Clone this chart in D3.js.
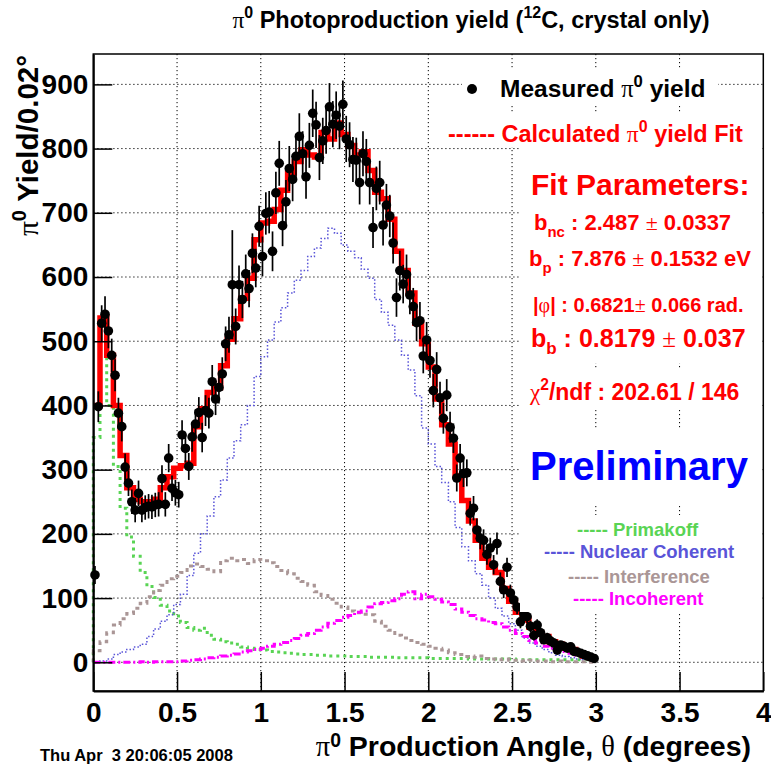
<!DOCTYPE html>
<html>
<head>
<meta charset="utf-8">
<script src="https://cdn.jsdelivr.net/npm/d3@7"></script>
<style>
  body { margin: 0; background: #fff; }
  text { font-family: "Liberation Sans", Arial, Helvetica, sans-serif; font-weight: bold; white-space: pre; }
</style>
</head>
<body>
<div id="chart"></div>
<script>
// histogram binning (degrees)
var dataBin = 0.02, curveBin = 0.04;

// measured pi0 yield per 0.02 deg bin, 0 .. 3 deg
var yieldVals = [
  136, 398, 528, 542, 516, 478, 447, 388, 367, 304,
  279, 250, 237, 263, 237, 241, 243, 242, 245, 246,
  286, 246, 318, 271, 264, 261, 354, 333, 305, 351,
  371, 389, 350, 392, 388, 437, 410, 428, 449, 496,
  510, 588, 523, 588, 565, 605, 582, 637, 614, 679,
  632, 699, 701, 640, 731, 777, 680, 717, 769, 752,
  788, 819, 792, 756, 805, 855, 837, 786, 812, 828,
  865, 838, 852, 835, 869, 815, 806, 783, 782, 747,
  792, 780, 747, 677, 738, 747, 681, 712, 695, 653,
  568, 610, 589, 604, 572, 554, 529, 532, 477, 502,
  470, 423, 456, 412, 380, 416, 366, 349, 287, 318,
  294, 295, 232, 240, 206, 193, 190, 168, 178, 152,
  185, 126, 113, 148, 108, 97, 86, 63, 76, 71,
  56, 42, 58, 46, 35, 38, 33, 30, 19, 27,
  25, 22, 24, 17, 16, 14, 12, 10, 8, 6
];
var yieldErrs = [
  14, 24, 28, 28, 27, 26, 25, 24, 23, 21,
  20, 19, 19, 20, 19, 19, 19, 19, 19, 19,
  21, 19, 22, 20, 20, 20, 23, 22, 21, 23,
  23, 24, 23, 24, 24, 26, 25, 25, 26, 27,
  28, 85, 28, 30, 29, 30, 29, 31, 30, 32,
  31, 33, 33, 31, 33, 35, 32, 34, 35, 34,
  35, 36, 35, 34, 35, 37, 36, 35, 36, 36,
  37, 36, 37, 36, 37, 36, 35, 35, 35, 34,
  35, 35, 34, 32, 34, 34, 32, 33, 33, 32,
  30, 31, 30, 31, 30, 29, 29, 29, 27, 28,
  27, 26, 27, 25, 24, 25, 24, 23, 21, 22,
  21, 21, 19, 19, 18, 17, 17, 16, 16, 15,
  17, 14, 13, 15, 13, 12, 11, 10, 11, 10,
  9, 8, 9, 8, 7, 8, 7, 7, 5, 6,
  6, 6, 6, 5, 5, 5, 4, 4, 3, 3
];

// fit and its components, per 0.04 deg bin
var fitVals = [
  400, 536, 478, 400, 322, 272, 254, 250, 250, 254,
  272, 289, 302, 306, 310, 367, 395, 420, 428, 462,
  503, 535, 567, 598, 658, 684, 687, 705, 735, 762,
  780, 798, 790, 787, 825, 815, 840, 822, 805, 790,
  795, 766, 732, 722, 690, 640, 610, 575, 528, 496,
  460, 410, 370, 340, 290, 252, 220, 190, 162, 148,
  140, 115, 95, 78, 66, 55, 45, 40, 32, 28,
  22, 20, 14, 10, 7
];
var primakoff = [
  350, 505, 400, 305, 240, 195, 165, 140, 118, 101,
  89, 80, 72, 62, 54, 50, 53, 42, 36, 32,
  30, 28, 24, 22, 20, 19, 17, 16, 15, 14,
  13, 12, 12, 11, 11, 10, 10, 10, 9, 9,
  9, 8, 8, 8, 8, 7, 7, 7, 7, 7,
  6, 6, 6, 6, 6, 6, 5, 5, 5, 5,
  5, 5, 5, 4, 4, 4, 4, 4, 4, 4,
  4, 4, 4, 4, 4
];
var nuclearCoherent = [
  1, 2, 5, 12, 16, 20, 24, 28, 40, 52,
  64, 74, 90, 106, 135, 170, 200, 228, 258, 284,
  318, 345, 370, 400, 445, 476, 502, 530, 552, 575,
  595, 610, 632, 645, 660, 676, 668, 650, 640, 630,
  612, 598, 565, 545, 525, 502, 478, 455, 415, 365,
  340, 305, 280, 250, 210, 180, 158, 138, 120, 100,
  84, 72, 60, 50, 38, 30, 25, 20, 15, 11,
  9, 7, 5, 4, 3
];
var interference = [
  18, 32, 46, 58, 68, 76, 84, 92, 102, 112,
  120, 130, 134, 140, 150, 153, 149, 145, 141, 158,
  162, 158, 160, 154, 160, 158, 155, 149, 143, 138,
  131, 126, 120, 110, 104, 98, 92, 86, 80, 77,
  75, 74, 64, 56, 50, 42, 38, 34, 31, 28,
  25, 22, 19, 15, 12, 9, 8, 10, 6, 5,
  4, 5, 3, 3, 2, 3, 2, 2, 1, 2,
  1, 1, 1, 1, 0
];
var incoherent = [
  0, 0, 0, 0, 0, 0, 0, 1, 0, 1,
  1, 1, 1, 2, 3, 4, 5, 7, 8, 10,
  11, 13, 16, 18, 20, 22, 25, 28, 31, 34,
  37, 42, 45, 50, 55, 61, 65, 70, 73, 78,
  80, 86, 91, 93, 96, 99, 106, 110, 99, 106,
  102, 98, 94, 90, 83, 78, 73, 68, 66, 62,
  60, 55, 50, 45, 40, 34, 30, 25, 22, 19,
  17, 14, 11, 10, 8
];

var xTicks = [0, 0.5, 1, 1.5, 2, 2.5, 3, 3.5, 4];
var xTickLabels = ["0", "0.5", "1", "1.5", "2", "2.5", "3", "3.5", "4"];
var yTicks = [0, 100, 200, 300, 400, 500, 600, 700, 800, 900];

var W = 771, H = 766;
var frame = {left: 93.3, right: 763.3, top: 54, bottom: 691};
var SERIF = "'Liberation Serif', 'DejaVu Serif', serif";

var svg = d3.select("#chart").append("svg")
  .attr("width", W).attr("height", H);
svg.append("rect").attr("width", W).attr("height", H).attr("fill", "#fff");

var x = d3.scaleLinear().domain([0, 4]).range([frame.left, frame.right]);
var y = d3.scaleLinear().domain([-44.7, 947.3]).range([frame.bottom, frame.top]);

// grid
var grid = svg.append("g").attr("stroke", "#000").attr("stroke-width", 1)
  .attr("stroke-dasharray", "1.2,2.8");
grid.selectAll(".gx").data(xTicks.slice(1, -1)).enter().append("line")
  .attr("x1", function(d) { return x(d); }).attr("x2", function(d) { return x(d); })
  .attr("y1", frame.top).attr("y2", frame.bottom);
grid.selectAll(".gy").data(yTicks).enter().append("line")
  .attr("y1", function(d) { return y(d); }).attr("y2", function(d) { return y(d); })
  .attr("x1", frame.left).attr("x2", frame.right);

// step histogram path
function histPoints(vals, bw, fromZero) {
  var pts = vals.map(function(v, i) { return [i * bw, v]; });
  pts.push([vals.length * bw, vals[vals.length - 1]]);
  if (fromZero) pts.unshift([0, 0]);
  return pts;
}
var step = d3.line()
  .x(function(d) { return x(d[0]); })
  .y(function(d) { return y(d[1]); })
  .curve(d3.curveStepAfter);

var curves = [
  {vals: primakoff, color: "#59d454", w: 3, dash: "3,4"},
  {vals: nuclearCoherent, color: "#5954d8", w: 1.5, dash: "1.5,2"},
  {vals: interference, color: "#aa9696", w: 3, dash: "4,4"},
  {vals: incoherent, color: "#ff00ff", w: 3, dash: "7,3,2,3"}
];
curves.forEach(function(c) {
  svg.append("path")
    .attr("d", step(histPoints(c.vals, curveBin, true)))
    .attr("fill", "none").attr("stroke", c.color)
    .attr("stroke-width", c.w).attr("stroke-dasharray", c.dash);
});

svg.append("path")
  .attr("d", step(histPoints(fitVals, curveBin, false)))
  .attr("fill", "none").attr("stroke", "#ff0000")
  .attr("stroke-width", 5.5).attr("stroke-linejoin", "miter");

// measured points
var pts = svg.append("g");
pts.selectAll("line").data(yieldVals).enter().append("line")
  .attr("x1", function(d, i) { return x((i + 0.5) * dataBin); })
  .attr("x2", function(d, i) { return x((i + 0.5) * dataBin); })
  .attr("y1", function(d, i) { return y(d - yieldErrs[i]); })
  .attr("y2", function(d, i) { return y(d + yieldErrs[i]); })
  .attr("stroke", "#000").attr("stroke-width", 1.7);
pts.selectAll("circle").data(yieldVals).enter().append("circle")
  .attr("cx", function(d, i) { return x((i + 0.5) * dataBin); })
  .attr("cy", function(d) { return y(d); })
  .attr("r", 4.8).attr("fill", "#000");

// axes
var xAxis = svg.append("g").attr("transform", "translate(0," + frame.bottom + ")");
xAxis.call(d3.axisBottom(x).tickValues(d3.range(0, 4.001, 0.1)).tickSize(-9.5)
  .tickSizeOuter(0).tickFormat(""));
xAxis.call(d3.axisBottom(x).tickValues(xTicks).tickSize(-19).tickSizeOuter(0)
  .tickPadding(11).tickFormat(function(d, i) { return xTickLabels[i]; }));
var yAxis = svg.append("g").attr("transform", "translate(" + frame.left + ",0)");
yAxis.call(d3.axisLeft(y).tickValues(d3.range(-40, 941, 20)).tickSize(-9.5)
  .tickSizeOuter(0).tickFormat(""));
yAxis.call(d3.axisLeft(y).tickValues(yTicks).tickSize(-19).tickSizeOuter(0)
  .tickPadding(5));
svg.selectAll(".tick line").attr("stroke", "#000").attr("stroke-width", 1.5);
svg.selectAll(".domain").attr("stroke", "#000").attr("stroke-width", 2);
svg.selectAll(".tick text").attr("font-size", 28).attr("fill", "#000")
  .attr("font-family", "'Liberation Sans', Arial, sans-serif").attr("font-weight", "bold");

// text helper: runs of {t, g (greek/symbol), sup, sub}
function rich(parent, px, py, size, fill, runs, anchor, supRaise) {
  var t = parent.append("text").attr("x", px).attr("y", py)
    .attr("font-size", size).attr("fill", fill)
    .attr("text-anchor", anchor || "start");
  var shift = 0, up = supRaise || 0.42;
  runs.forEach(function(r) {
    var s = r.sup ? -up * size : r.sub ? 0.3 * size : 0;
    var ts = t.append("tspan").text(r.t).attr("dy", s - shift);
    shift = s;
    if (r.sup || r.sub) ts.attr("font-size", size * 0.68);
    if (r.g) ts.attr("font-family", SERIF).attr("font-weight", "normal");
  });
  return t;
}

// white boxes under legend texts
var boxes = [
  [462, 68, 718, 106], [444, 112, 762, 147], [520, 147, 762, 363],
  [520, 370, 762, 410], [520, 428, 762, 505], [520, 515, 762, 612]
];
svg.selectAll(".box").data(boxes).enter().append("rect")
  .attr("x", function(d) { return d[0]; }).attr("y", function(d) { return d[1]; })
  .attr("width", function(d) { return d[2] - d[0]; })
  .attr("height", function(d) { return d[3] - d[1]; })
  .attr("fill", "#fff");

// frame
svg.append("rect").attr("x", frame.left).attr("y", frame.top)
  .attr("width", frame.right - frame.left).attr("height", frame.bottom - frame.top)
  .attr("fill", "none").attr("stroke", "#000").attr("stroke-width", 1.5);

// titles
rich(svg, 471, 28, 23.5, "#000", [{t: "π", g: 1}, {t: "0", sup: 1},
  {t: " Photoproduction yield ("}, {t: "12", sup: 1}, {t: "C, crystal only)"}], "middle");
rich(svg, 751, 756, 28.5, "#000", [{t: "π", g: 1}, {t: "0", sup: 1},
  {t: " Production Angle, "}, {t: "θ", g: 1}, {t: " (degrees)"}], "end", 0.3);
rich(svg.append("g").attr("transform", "translate(38,55) rotate(-90)"), 0, 0, 29.5, "#000",
  [{t: "π", g: 1}, {t: "0", sup: 1}, {t: " Yield/0.02°"}], "end");
svg.append("text").attr("x", 40).attr("y", 761).attr("font-size", 16.5)
  .text("Thu Apr  3 20:06:05 2008");

// legend
svg.append("circle").attr("cx", 472).attr("cy", 89).attr("r", 5).attr("fill", "#000");
rich(svg, 500, 97, 24.5, "#000", [{t: "Measured "}, {t: "π", g: 1}, {t: "0", sup: 1}, {t: " yield"}]);
rich(svg, 448, 141.5, 23.5, "#ff0000", [{t: "------ Calculated "}, {t: "π", g: 1},
  {t: "0", sup: 1}, {t: " yield Fit"}]);
rich(svg, 531, 195, 30, "#ff0000", [{t: "Fit Parameters:"}]);
rich(svg, 534, 230, 22, "#ff0000", [{t: "b"}, {t: "nc", sub: 1}, {t: " : 2.487 "},
  {t: "±", g: 1}, {t: " 0.0337"}]);
rich(svg, 529, 266, 22, "#ff0000", [{t: "b"}, {t: "p", sub: 1}, {t: " : 7.876 "},
  {t: "±", g: 1}, {t: " 0.1532 eV"}]);
rich(svg, 533, 311.5, 20, "#ff0000", [{t: "|"}, {t: "φ", g: 1}, {t: "| : 0.6821"},
  {t: "±", g: 1}, {t: " 0.066 rad."}]);
rich(svg, 531, 346.5, 25, "#ff0000", [{t: "b"}, {t: "b", sub: 1}, {t: " : 0.8179 "},
  {t: "±", g: 1}, {t: " 0.037"}]);
rich(svg, 530, 400, 23, "#ff0000", [{t: "χ", g: 1}, {t: "2", sup: 1},
  {t: "/ndf : 202.61 / 146"}]);
rich(svg, 530, 480, 40, "#0000ff", [{t: "Preliminary"}]);

var legendItems = [
  {label: "----- Primakoff", color: "#59d454", x: 577, y: 536},
  {label: "----- Nuclear Coherent", color: "#5954d8", x: 544, y: 558},
  {label: "----- Interference", color: "#aa9696", x: 568, y: 583},
  {label: "----- Incoherent", color: "#ff00ff", x: 573, y: 605}
];
legendItems.forEach(function(l) {
  rich(svg, l.x, l.y, 18.5, l.color, [{t: l.label}]);
});
</script>
</body>
</html>
